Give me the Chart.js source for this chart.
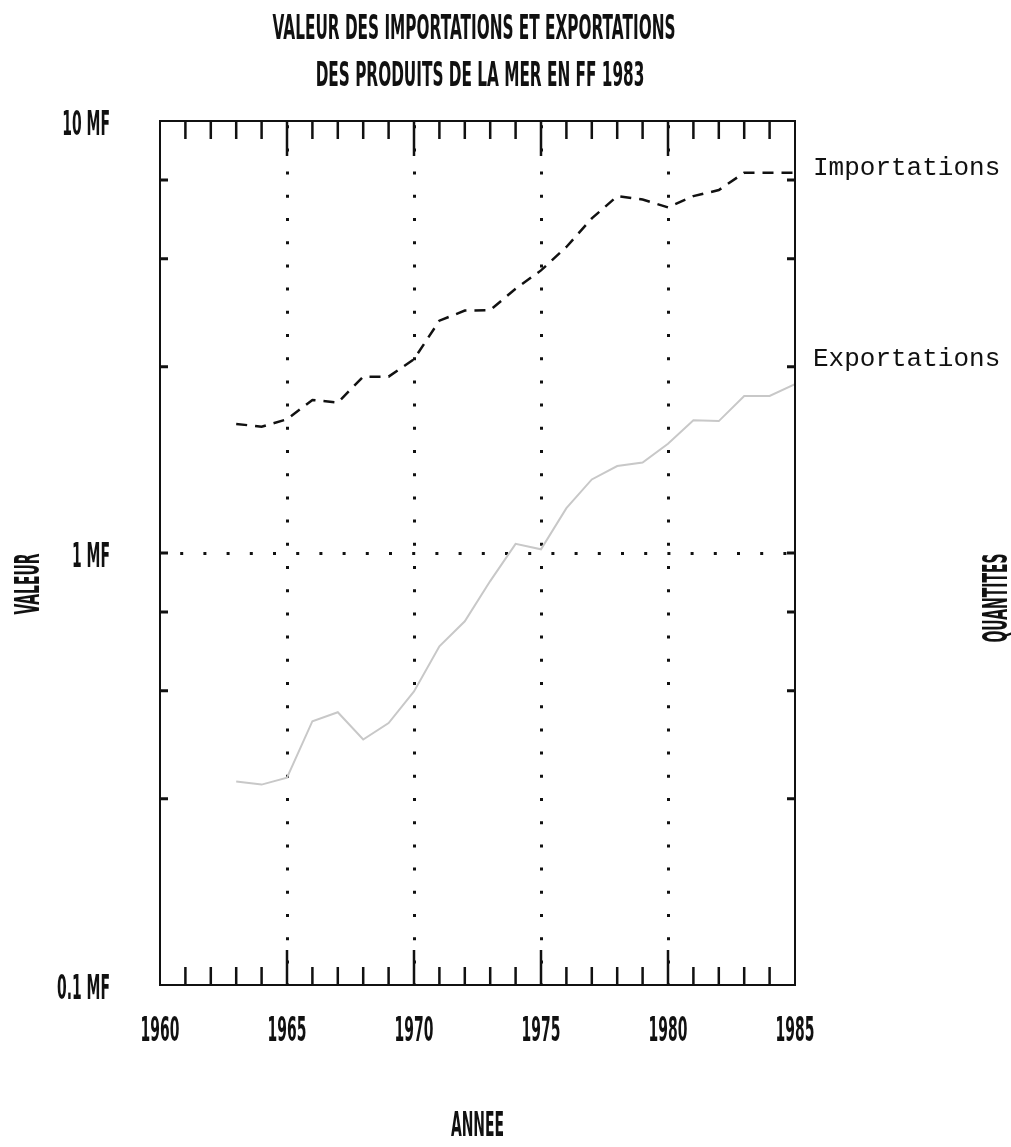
<!DOCTYPE html>
<html>
<head>
<meta charset="utf-8">
<script src="https://cdn.jsdelivr.net/npm/chart.js@4.4.0/dist/chart.umd.min.js"></script>
<style>
html, body { margin: 0; padding: 0; background: #fff; }
</style>
</head>
<body>
<canvas id="chartCanvas" width="1011" height="1147"></canvas>
<script>
// values (MF, log scale)
const years = [1963, 1964, 1965, 1966, 1967, 1968, 1969, 1970, 1971, 1972, 1973, 1974,
	1975, 1976, 1977, 1978, 1979, 1980, 1981, 1982, 1983, 1984, 1985]
const importations = [1.99, 1.96, 2.04, 2.26, 2.23, 2.56, 2.56, 2.81, 3.45, 3.64, 3.65, 4.09,
	4.51, 5.11, 5.95, 6.70, 6.58, 6.31, 6.70, 6.92, 7.59, 7.59, 7.59]
const exportations = [0.296, 0.291, 0.302, 0.408, 0.428, 0.370, 0.404, 0.478, 0.608, 0.695, 0.861, 1.05,
	1.02, 1.27, 1.48, 1.59, 1.62, 1.79, 2.03, 2.02, 2.31, 2.31, 2.46]

const xTickValues = [1960, 1965, 1970, 1975, 1980, 1985]
const xTickLabels = ['1960', '1965', '1970', '1975', '1980', '1985']
const yTickValues = [0.1, 1, 10]
const yTickLabels = ['0.1 MF', '1 MF', '10 MF']
const yMarkValues = [0.27, 0.48, 0.73, 1, 2.7, 4.8, 7.3]

const titleLines = ['VALEUR DES IMPORTATIONS ET EXPORTATIONS', 'DES PRODUITS DE LA MER EN FF 1983']
const seriesNames = ['Importations', 'Exportations']
const xTitle = 'ANNEE'
const yTitle = 'VALEUR'
const y2Title = 'QUANTITES'

const NARROW = 'bold 34px "DejaVu Sans"'

function pts(values) {
	return years.map(function (y, i) { return { x: y, y: values[i] } })
}

// squashed plotter lettering
function narrow(ctx, text, x, y, align, rot, sx) {
	ctx.save()
	ctx.font = NARROW
	ctx.fillStyle = '#111'
	ctx.textBaseline = 'middle'
	ctx.textAlign = align
	ctx.translate(x, y)
	if (rot) ctx.rotate(rot)
	ctx.scale(sx || 0.41, 1)
	ctx.fillText(text, 0, 0)
	ctx.restore()
}

const framePlugin = {
	id: 'frame',
	afterDatasetsDraw: function (chart) {
		const ctx = chart.ctx
		const a = chart.chartArea
		const xs = chart.scales.x
		const ys = chart.scales.y
		ctx.save()
		ctx.strokeStyle = '#111'
		ctx.lineWidth = 2
		ctx.strokeRect(a.left, a.top, a.right - a.left, a.bottom - a.top)
		// year marks top and bottom
		ctx.lineWidth = 2.5
		for (let yr = 1961; yr < 1985; yr++) {
			const px = xs.getPixelForValue(yr)
			const len = yr % 5 === 0 ? 35 : 18
			ctx.beginPath()
			ctx.moveTo(px, a.top); ctx.lineTo(px, a.top + len)
			ctx.moveTo(px, a.bottom); ctx.lineTo(px, a.bottom - len)
			ctx.stroke()
		}
		// value marks left and right
		ctx.lineWidth = 3
		yMarkValues.forEach(function (v) {
			const py = ys.getPixelForValue(v)
			ctx.beginPath()
			ctx.moveTo(a.left, py); ctx.lineTo(a.left + 8, py)
			ctx.moveTo(a.right, py); ctx.lineTo(a.right - 8, py)
			ctx.stroke()
		})
		ctx.restore()

		// titles and tick labels
		narrow(ctx, titleLines[0], 474, 30, 'center', 0, 0.45)
		narrow(ctx, titleLines[1], 480, 77, 'center', 0, 0.45)
		xTickValues.forEach(function (v, i) {
			narrow(ctx, xTickLabels[i], xs.getPixelForValue(v), 1032, 'center')
		})
		yTickValues.forEach(function (v, i) {
			narrow(ctx, yTickLabels[i], 110, ys.getPixelForValue(v) + 5, 'right')
		})
		narrow(ctx, xTitle, (a.left + a.right) / 2, 1127, 'center')
		narrow(ctx, yTitle, 30, 584, 'center', -Math.PI / 2)
		narrow(ctx, y2Title, 998, 598, 'center', -Math.PI / 2)

		// series names at the line ends
		ctx.save()
		ctx.font = '26px "Liberation Mono"'
		ctx.fillStyle = '#111'
		ctx.textBaseline = 'alphabetic'
		ctx.textAlign = 'left'
		const iy = ys.getPixelForValue(importations[importations.length - 1])
		const ey = ys.getPixelForValue(exportations[exportations.length - 1])
		ctx.fillText(seriesNames[0], a.right + 18, iy + 2)
		ctx.fillText(seriesNames[1], a.right + 18, ey - 18)
		ctx.restore()
	}
}

window.onload = function () {
	const ctx = document.getElementById('chartCanvas')
	window.myChart = new Chart(ctx, {
		type: 'line',
		data: {
			datasets: [
				{
					label: seriesNames[0],
					data: pts(importations),
					borderColor: '#111',
					borderWidth: 2.5,
					borderDash: [11, 8],
					pointRadius: 0,
					fill: false,
					tension: 0
				},
				{
					label: seriesNames[1],
					data: pts(exportations),
					borderColor: '#c8c8c8',
					borderWidth: 2,
					pointRadius: 0,
					fill: false,
					tension: 0
				}
			]
		},
		options: {
			responsive: false,
			animation: false,
			layout: { padding: { left: 160, right: 216, top: 121, bottom: 162 } },
			plugins: { legend: { display: false }, tooltip: { enabled: false }, title: { display: false } },
			scales: {
				x: {
					type: 'linear',
					min: 1960,
					max: 1985,
					ticks: { display: false, stepSize: 5 },
					grid: {
						drawTicks: false,
						lineWidth: 3,
						color: function (c) {
							const v = c.tick && c.tick.value
							return (v > 1960 && v < 1985 && v % 5 === 0) ? '#111' : 'rgba(0,0,0,0)'
						}
					},
					border: { display: false, dash: [3, 20.2], dashOffset: 19 }
				},
				y: {
					type: 'logarithmic',
					min: 0.1,
					max: 10,
					afterBuildTicks: function (axis) {
						axis.ticks = yTickValues.map(function (v) { return { value: v } })
					},
					ticks: { display: false },
					grid: {
						drawTicks: false,
						lineWidth: 3,
						color: function (c) {
							return (c.tick && c.tick.value === 1) ? '#111' : 'rgba(0,0,0,0)'
						}
					},
					border: { display: false, dash: [3, 20.2], dashOffset: 3 }
				}
			}
		},
		plugins: [framePlugin]
	})
}
</script>
</body>
</html>
